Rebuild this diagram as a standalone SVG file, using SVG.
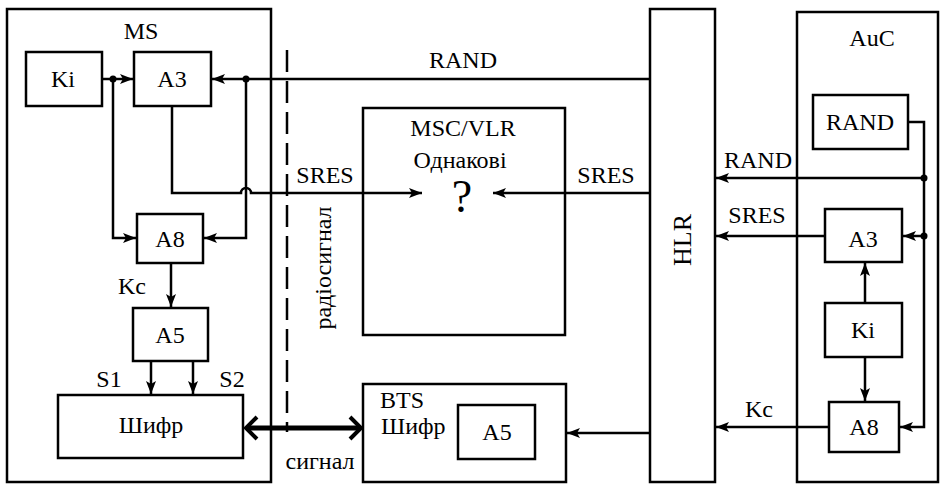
<svg xmlns="http://www.w3.org/2000/svg" width="940" height="484" viewBox="0 0 940 484" font-family="'Liberation Serif', 'DejaVu Serif', 'Times New Roman', serif">
<style>
.box{fill:none;stroke:#000;stroke-width:2.5}
.ln{fill:none;stroke:#000;stroke-width:2.5}
.t{font-family:'Liberation Serif','DejaVu Serif','Times New Roman',serif;font-size:24px;fill:#000;text-anchor:middle}
.dot{fill:#000}
</style>
<defs>
<marker id="ah" markerUnits="userSpaceOnUse" markerWidth="14" markerHeight="12" refX="13" refY="6" orient="auto">
<path d="M0,1 L13,6 L0,11 L3,6 z" fill="#000"/>
</marker>
</defs>
<rect width="940" height="484" fill="#fff"/>

<g id="ms">
<rect class="box" x="7" y="9" width="264" height="473"/>
<text class="t" x="141" y="39">MS</text>
</g>
<g id="ms-ki">
<rect class="box" x="26" y="52" width="76" height="54"/>
<text class="t" x="63" y="87">Ki</text>
</g>
<g id="ms-a3">
<rect class="box" x="134" y="52" width="77" height="54"/>
<text class="t" x="172" y="87">A3</text>
</g>
<g id="ms-a8">
<rect class="box" x="137" y="214" width="66" height="49"/>
<text class="t" x="170" y="247">A8</text>
</g>
<g id="ms-a5">
<rect class="box" x="133" y="308" width="75" height="53"/>
<text class="t" x="170" y="343">A5</text>
</g>
<g id="ms-cipher">
<rect class="box" x="58" y="395" width="185" height="63"/>
<text class="t" x="151" y="433">Шифр</text>
</g>
<g id="msc">
<rect class="box" x="363" y="108" width="202" height="227"/>
<text class="t" x="463" y="136">MSC/VLR</text>
<text class="t" x="460" y="168">Однакові</text>
<text class="t" x="462" y="212" style="font-size:46px">?</text>
</g>
<g id="bts">
<rect class="box" x="363" y="384" width="203" height="98"/>
<text class="t" x="380" y="408" style="text-anchor:start">BTS</text>
<text class="t" x="381" y="434" style="text-anchor:start">Шифр</text>
</g>
<g id="bts-a5">
<rect class="box" x="458" y="405" width="77" height="54"/>
<text class="t" x="497" y="440">A5</text>
</g>
<g id="hlr">
<rect class="box" x="650" y="9" width="65" height="473"/>
<text class="t" transform="translate(691,240) rotate(-90)" style="font-size:26px">HLR</text>
</g>
<g id="auc">
<rect class="box" x="797" y="12" width="141" height="470"/>
<text class="t" x="872" y="46">AuC</text>
</g>
<g id="auc-rand">
<rect class="box" x="813" y="95" width="95" height="54"/>
<text class="t" x="860" y="130">RAND</text>
</g>
<g id="auc-a3">
<rect class="box" x="825" y="209" width="77" height="53"/>
<text class="t" x="863" y="247">A3</text>
</g>
<g id="auc-ki">
<rect class="box" x="825" y="303" width="77" height="54"/>
<text class="t" x="863" y="338">Ki</text>
</g>
<g id="auc-a8">
<rect class="box" x="829" y="402" width="70" height="50"/>
<text class="t" x="864" y="435">A8</text>
</g>

<g id="connectors">
<path class="ln" d="M102,79 H133" marker-end="url(#ah)"/>
<path class="ln" d="M113,79 V238 H136" marker-end="url(#ah)"/>
<path class="ln" d="M650,79 H212" marker-end="url(#ah)"/>
<path class="ln" d="M246,79 V238 H204" marker-end="url(#ah)"/>
<path class="ln" d="M172,106 V193 H241 A5,5 0 0 1 251,193 H422" marker-end="url(#ah)"/>
<path class="ln" d="M650,193 H493" marker-end="url(#ah)"/>
<path class="ln" d="M171,263 V307" marker-end="url(#ah)"/>
<path class="ln" d="M151,361 V394" marker-end="url(#ah)"/>
<path class="ln" d="M193,361 V394" marker-end="url(#ah)"/>
<path class="ln" d="M650,433 H567" marker-end="url(#ah)"/>
<path class="ln" d="M908,122 H924 V427 H900" marker-end="url(#ah)"/>
<path class="ln" d="M924,178 H716" marker-end="url(#ah)"/>
<path class="ln" d="M924,236 H903" marker-end="url(#ah)"/>
<path class="ln" d="M825,236 H716" marker-end="url(#ah)"/>
<path class="ln" d="M865,303 V263" marker-end="url(#ah)"/>
<path class="ln" d="M865,357 V401" marker-end="url(#ah)"/>
<path class="ln" d="M829,427 H716" marker-end="url(#ah)"/>
<path d="M287,50 V432" fill="none" stroke="#000" stroke-width="2.5" stroke-dasharray="22 9"/>
<path d="M246,428 H361" fill="none" stroke="#000" stroke-width="5"/>
<path d="M257,417 L246,428 L257,439" fill="none" stroke="#000" stroke-width="4"/>
<path d="M350,417 L361,428 L350,439" fill="none" stroke="#000" stroke-width="4"/>
<circle class="dot" cx="113" cy="79" r="3.5"/>
<circle class="dot" cx="246" cy="79" r="3.5"/>
<circle class="dot" cx="924" cy="178" r="3.5"/>
<circle class="dot" cx="924" cy="236" r="3.5"/>
</g>

<g id="labels">
<text class="t" x="463" y="68">RAND</text>
<text class="t" x="325" y="183">SRES</text>
<text class="t" x="606" y="183">SRES</text>
<text class="t" x="132" y="294">Kc</text>
<text class="t" x="109" y="387">S1</text>
<text class="t" x="232" y="387">S2</text>
<text class="t" x="320" y="469">сигнал</text>
<text class="t" transform="translate(331,268) rotate(-90)">радіосигнал</text>
<text class="t" x="758" y="168">RAND</text>
<text class="t" x="757" y="223">SRES</text>
<text class="t" x="759" y="417">Kc</text>
</g>
</svg>
